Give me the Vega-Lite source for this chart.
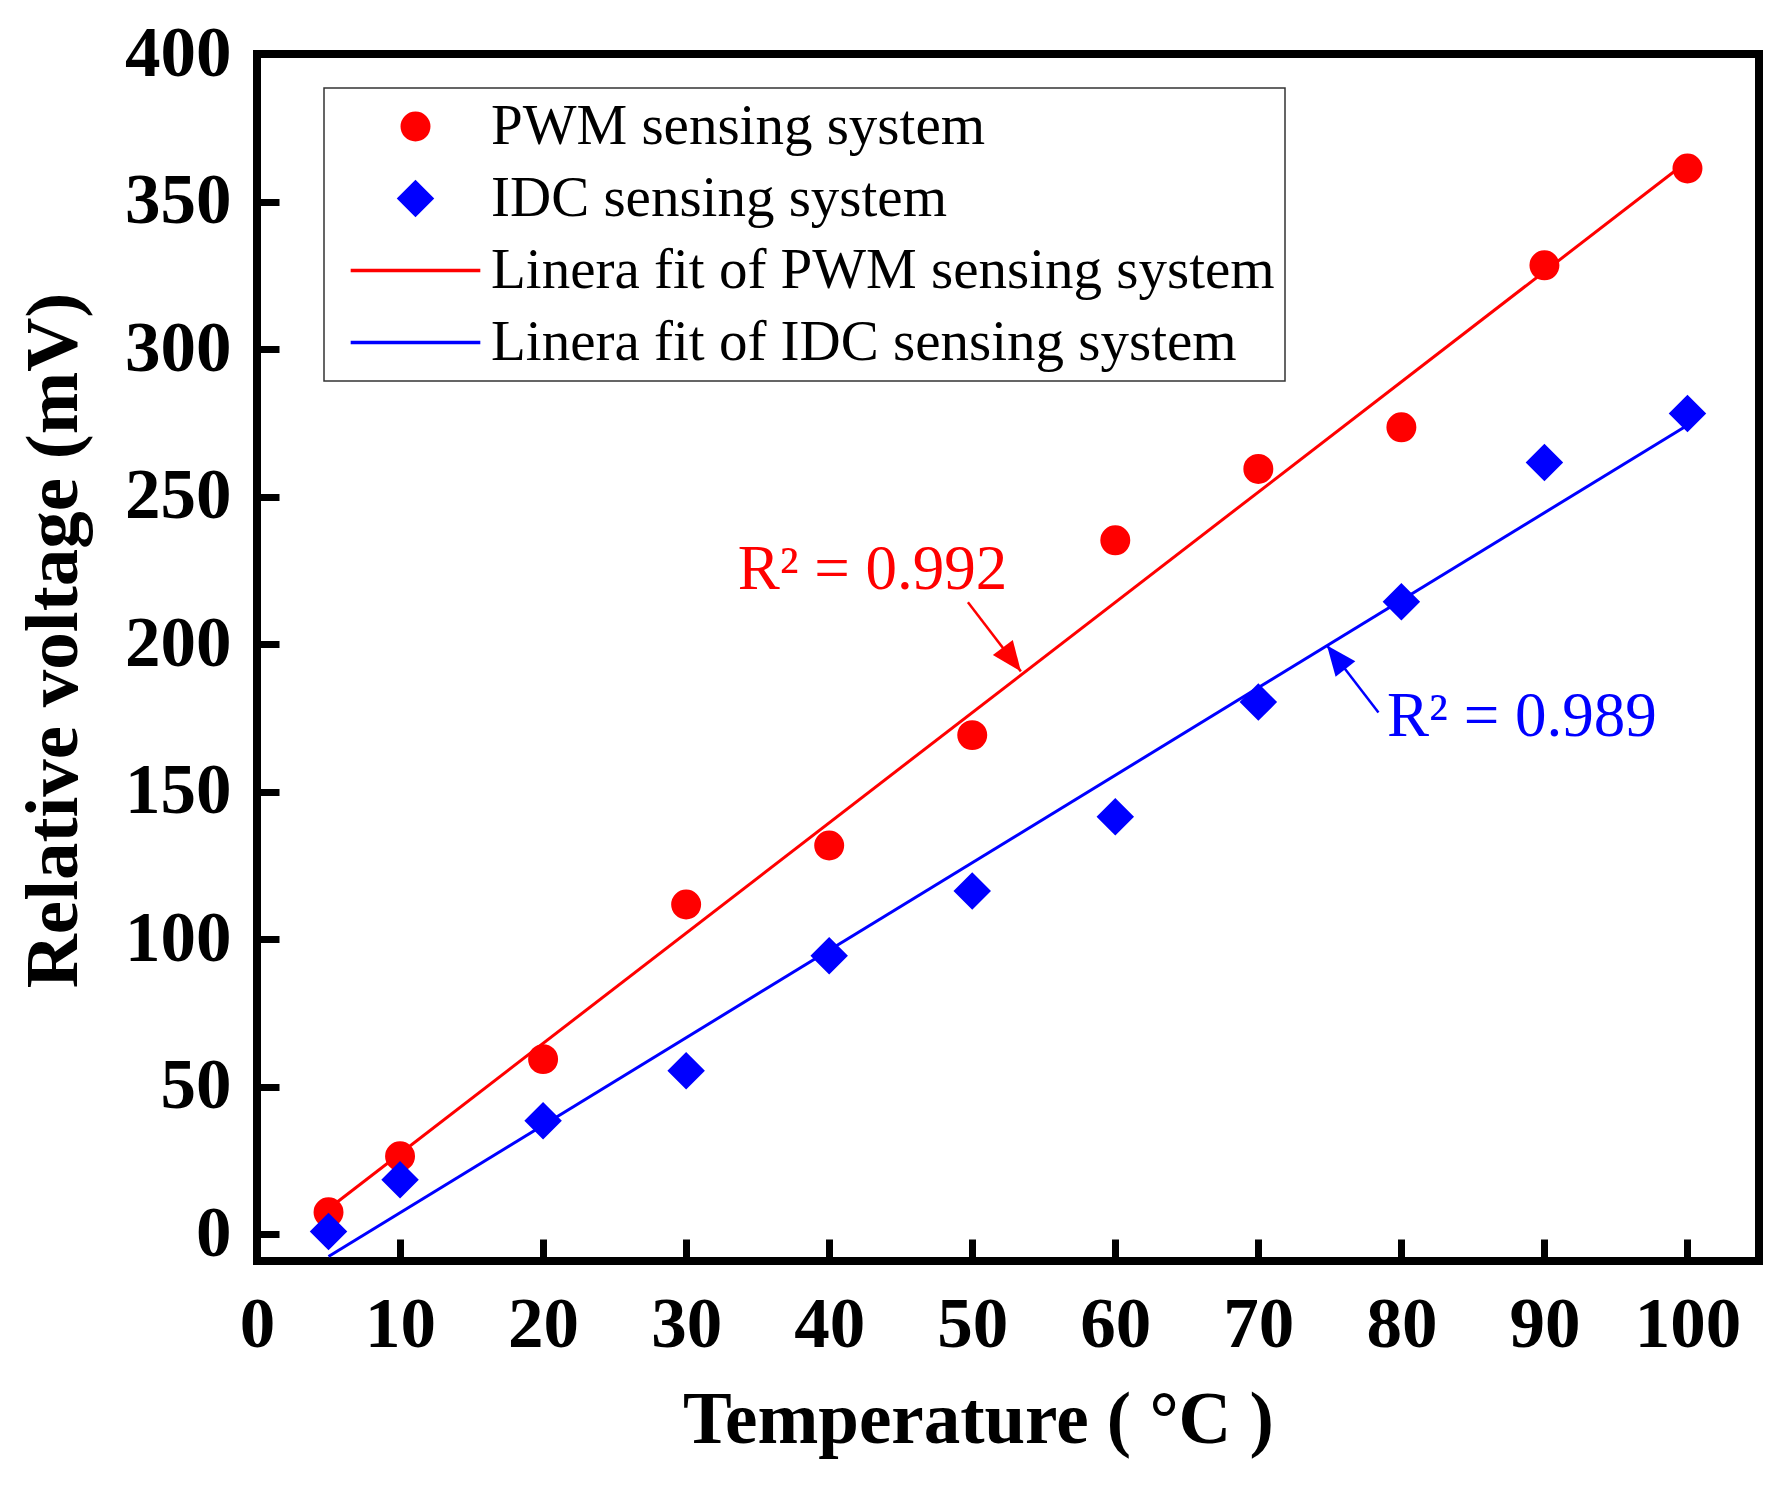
{
  "$schema": "https://vega.github.io/schema/vega-lite/v6.json",
  "autosize": {"type": "none"},
  "width": 1502,
  "height": 1207,
  "padding": {"left": 257, "top": 54, "right": 26, "bottom": 225},
  "background": "white",
  "config": {
    "view": {"stroke": "black", "strokeWidth": 8},
    "font": "Liberation Serif",
    "axis": {
      "grid": false,
      "domain": false,
      "tickColor": "black",
      "tickWidth": 7,
      "tickSize": -22,
      "labelFont": "Liberation Serif",
      "labelFontWeight": "bold",
      "labelFontSize": 71,
      "labelColor": "black",
      "labelFlush": false,
      "titleFont": "Liberation Serif",
      "titleFontWeight": "bold",
      "titleColor": "black"
    },
    "legend": {
      "title": null,
      "orient": "none",
      "legendX": 67,
      "legendY": 34,
      "padding": 10,
      "strokeColor": "#333333",
      "strokeWidth": 1.5,
      "fillColor": "white",
      "labelFont": "Liberation Serif",
      "labelFontSize": 57,
      "labelColor": "black",
      "labelLimit": 2000,
      "rowPadding": 14,
      "symbolSize": 700,
      "symbolStrokeWidth": 3.5,
      "symbolOpacity": 1,
      "symbolOffset": 53,
      "labelOffset": 47
    }
  },
  "datasets": {
    "pts": [
      {"x": 5, "y": 7.5, "series": "PWM sensing system"},
      {"x": 10, "y": 26.5, "series": "PWM sensing system"},
      {"x": 20, "y": 59.4, "series": "PWM sensing system"},
      {"x": 30, "y": 111.8, "series": "PWM sensing system"},
      {"x": 40, "y": 131.8, "series": "PWM sensing system"},
      {"x": 50, "y": 169.2, "series": "PWM sensing system"},
      {"x": 60, "y": 235.2, "series": "PWM sensing system"},
      {"x": 70, "y": 259.4, "series": "PWM sensing system"},
      {"x": 80, "y": 273.5, "series": "PWM sensing system"},
      {"x": 90, "y": 328.4, "series": "PWM sensing system"},
      {"x": 100, "y": 361.2, "series": "PWM sensing system"},
      {"x": 5, "y": 1.0, "series": "IDC sensing system"},
      {"x": 10, "y": 18.5, "series": "IDC sensing system"},
      {"x": 20, "y": 38.5, "series": "IDC sensing system"},
      {"x": 30, "y": 55.5, "series": "IDC sensing system"},
      {"x": 40, "y": 94.4, "series": "IDC sensing system"},
      {"x": 50, "y": 116.4, "series": "IDC sensing system"},
      {"x": 60, "y": 141.5, "series": "IDC sensing system"},
      {"x": 70, "y": 180.4, "series": "IDC sensing system"},
      {"x": 80, "y": 214.4, "series": "IDC sensing system"},
      {"x": 90, "y": 261.6, "series": "IDC sensing system"},
      {"x": 100, "y": 278.2, "series": "IDC sensing system"}
    ],
    "arrows": [
      {"series": "PWM sensing system", "x": 49.7, "y": 214.2, "x2": 53.4, "y2": 190.8},
      {"series": "IDC sensing system", "x": 78.4, "y": 176.9, "x2": 74.8, "y2": 199.6}
    ],
    "heads": [
      {"series": "PWM sensing system", "x": 53.4, "y": 190.8},
      {"series": "IDC sensing system", "x": 74.8, "y": 199.6}
    ],
    "notes": [
      {"series": "PWM sensing system", "label": "R² = 0.992", "x": 33.6, "y": 218.6},
      {"series": "IDC sensing system", "label": "R² = 0.989", "x": 79.0, "y": 168.9}
    ]
  },
  "encoding": {
    "x": {
      "field": "x",
      "type": "quantitative",
      "scale": {"domain": [0, 105], "nice": false, "zero": false},
      "axis": {
        "values": [0, 10, 20, 30, 40, 50, 60, 70, 80, 90, 100],
        "title": "Temperature ( °C )",
        "titleFontSize": 73,
        "labelPadding": 51,
        "titleX": 721,
        "titleY": 181,
        "titleAlign": "center",
        "titleBaseline": "alphabetic"
      }
    },
    "y": {
      "field": "y",
      "type": "quantitative",
      "scale": {"domain": [-9, 400], "nice": false, "zero": false},
      "axis": {
        "values": [0, 50, 100, 150, 200, 250, 300, 350, 400],
        "title": "Relative voltage (mV)",
        "titleFontSize": 75,
        "labelPadding": 48,
        "titleX": -181,
        "titleY": 586,
        "titleAngle": -90,
        "titleAlign": "center",
        "titleBaseline": "alphabetic"
      }
    }
  },
  "layer": [
    {
      "data": {"name": "pts"},
      "transform": [{"regression": "y", "on": "x", "groupby": ["series"]}],
      "mark": {"type": "line", "strokeWidth": 3},
      "encoding": {
        "color": {
          "field": "series",
          "type": "nominal",
          "scale": {"domain": ["PWM sensing system", "IDC sensing system"], "range": ["#ff0000", "#0000ff"]},
          "legend": null
        }
      }
    },
    {
      "data": {"name": "pts"},
      "mark": {"type": "point", "filled": true, "opacity": 1, "size": 700, "strokeWidth": 3.5},
      "encoding": {
        "fill": {
          "field": "series",
          "type": "nominal",
          "scale": {
            "domain": ["PWM sensing system", "IDC sensing system", "Linera fit of PWM sensing system", "Linera fit of IDC sensing system"],
            "range": ["#ff0000", "#0000ff", "#ff0000", "#0000ff"]
          }
        },
        "stroke": {
          "field": "series",
          "type": "nominal",
          "scale": {
            "domain": ["PWM sensing system", "IDC sensing system", "Linera fit of PWM sensing system", "Linera fit of IDC sensing system"],
            "range": ["#ff0000", "#0000ff", "#ff0000", "#0000ff"]
          }
        },
        "shape": {
          "field": "series",
          "type": "nominal",
          "scale": {
            "domain": ["PWM sensing system", "IDC sensing system", "Linera fit of PWM sensing system", "Linera fit of IDC sensing system"],
            "range": ["circle", "M0,-1.23L1.23,0L0,1.23L-1.23,0Z", "M-4.9,0H4.9", "M-4.9,0H4.9"]
          }
        }
      }
    },
    {
      "data": {"name": "arrows"},
      "mark": {"type": "rule", "strokeWidth": 2.5},
      "encoding": {
        "x2": {"field": "x2"},
        "y2": {"field": "y2"},
        "color": {"field": "series", "type": "nominal", "legend": null}
      }
    },
    {
      "data": {"name": "heads"},
      "transform": [{"filter": "datum.series === 'PWM sensing system'"}],
      "mark": {"type": "point", "filled": true, "opacity": 1, "strokeWidth": 0, "size": 2500, "shape": "M0,0L-0.5,1.2L0.5,1.2Z", "angle": 143, "color": "#ff0000"}
    },
    {
      "data": {"name": "heads"},
      "transform": [{"filter": "datum.series === 'IDC sensing system'"}],
      "mark": {"type": "point", "filled": true, "opacity": 1, "strokeWidth": 0, "size": 2500, "shape": "M0,0L-0.5,1.2L0.5,1.2Z", "angle": 322, "color": "#0000ff"}
    },
    {
      "data": {"name": "notes"},
      "mark": {"type": "text", "align": "left", "baseline": "alphabetic", "font": "Liberation Serif", "fontSize": 63},
      "encoding": {
        "text": {"field": "label"},
        "color": {"field": "series", "type": "nominal", "legend": null}
      }
    }
  ]
}
